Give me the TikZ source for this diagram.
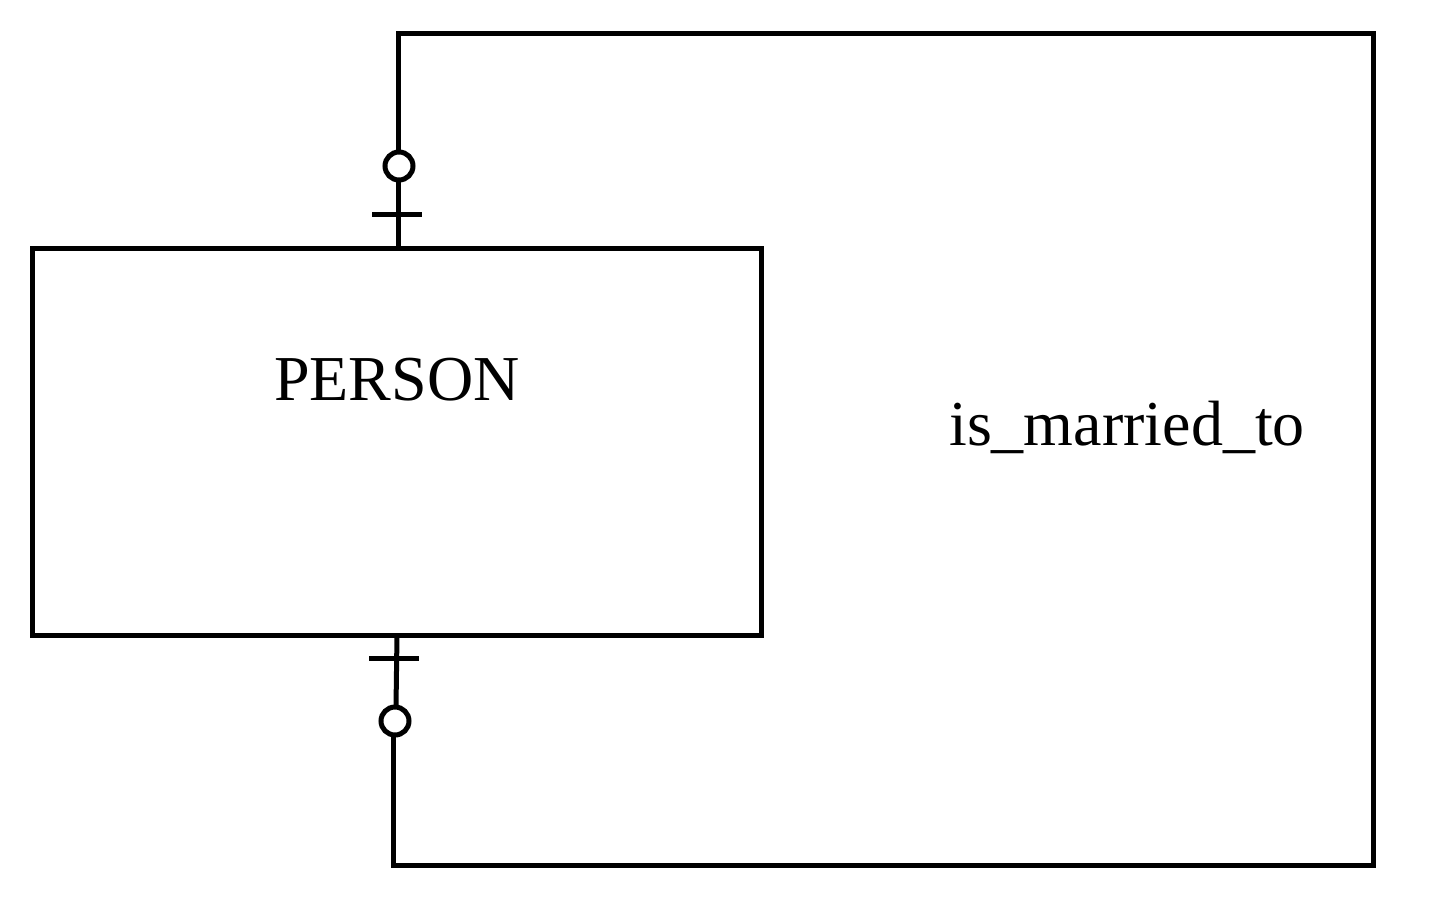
\documentclass[tikz,border=0pt]{standalone}
\usepackage{fontspec}
\setmainfont{Liberation Serif}
\begin{document}
\begin{tikzpicture}[x=0.5pt,y=-0.5pt,
  ln/.style={line width=2.5pt,line join=miter},
  ent/.style={draw,line width=2.5pt,minimum width=364.5pt,minimum height=193.5pt,inner sep=0pt},
  lbl/.style={font=\fontsize{32}{38}\selectfont,inner sep=0pt,anchor=base}]
\useasboundingbox (0,0) rectangle (1440,901);
\node[ent] (person) at (396.5,441.5) {};
\node[lbl] (ptext) at (397,400) {PERSON};
\node[lbl] (rel) at (1127,445) {is\_married\_to};
\coordinate (t0) at (398,248);
\coordinate (tc) at (399,166);
\coordinate (tb1) at (372,214);
\coordinate (tb2) at (422,214);
\coordinate (c1) at (398,33);
\coordinate (c2) at (1373,33);
\coordinate (c3) at (1373,865);
\coordinate (c4) at (393,865);
\coordinate (bc) at (395,721);
\coordinate (b0) at (397,635);
\coordinate (bb1) at (369,658);
\coordinate (bb2) at (419,658);
\draw[ln] (t0) -- (398,180);
\draw[ln] (398,152) -- (c1) -- (c2) -- (c3) -- (c4) -- (393,735);
\draw[ln] (b0) -- (396,707);
\draw[ln] (tc) circle[radius=14];
\draw[ln] (bc) circle[radius=14];
\draw[ln] (tb1) -- (tb2);
\draw[ln] (bb1) -- (bb2);
\end{tikzpicture}
\end{document}
